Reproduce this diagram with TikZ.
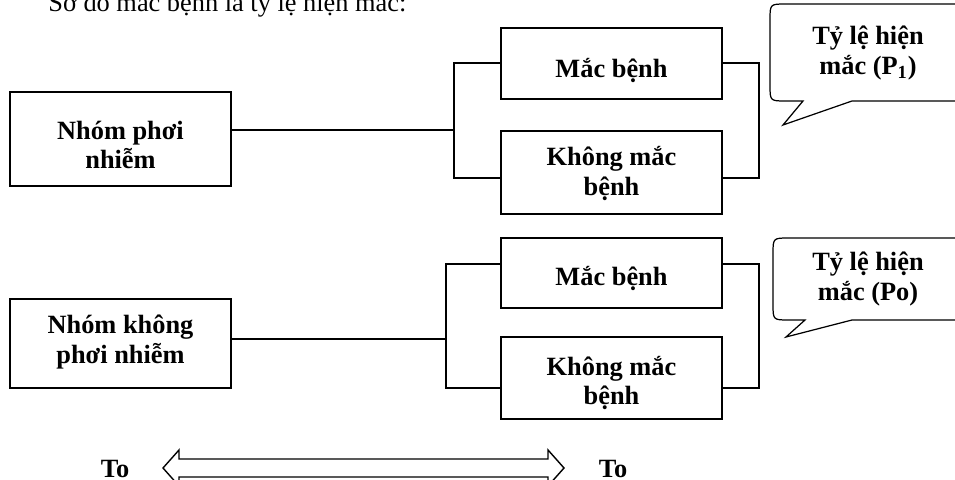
\documentclass[tikz,border=0pt]{standalone}
\usepackage{fontspec}
\setmainfont{Liberation Serif}
\usetikzlibrary{positioning}

\tikzset{
  box/.style={draw, line width=0.8pt, minimum width=4.42cm, inner sep=0pt},
  note/.style={align=center, inner sep=0pt, font=\bfseries\fontsize{15}{17}\selectfont},
  link/.style={line width=0.6pt},
  bubble/.style={line width=0.7pt},
}

\begin{document}
\begin{tikzpicture}[x=0.2mm, y=-0.2mm]
            \useasboundingbox (0,0) rectangle (955,480);

            % Heading (runs off the top edge)
            \node[anchor=base west, inner sep=0pt, font=\fontsize{15}{17}\selectfont] (title) at (48,12) {Sơ đồ mắc bệnh là tỷ lệ hiện mắc:};

            % Exposed group
            \node[box, minimum height=1.88cm] (exp) at (120.5,139) {};
            \node[box, minimum height=1.42cm] (sick1) at (611.5,63.5) {};
            \node[box, minimum height=1.66cm] (well1) at (611.5,172.5) {};
            \node[note] (expText) at (120.5,145) {Nhóm phơi\\nhiễm};
            \node[note] (sick1Text) at (611.5,71) {Mắc bệnh};
            \node[note] (well1Text) at (611.5,173.5) {Không mắc\\bệnh};

            \coordinate (fork1) at (454,130);
            \coordinate (fork1t) at (454,63);
            \coordinate (fork1b) at (454,178);
            \coordinate (join1t) at (759,63);
            \coordinate (join1b) at (759,178);
            \draw[link] (exp.east |- fork1) -- (fork1);
            \draw[link] (sick1.west |- fork1t) -- (fork1t) -- (fork1b) -- (well1.west |- fork1b);
            \draw[link] (sick1.east |- join1t) -- (join1t) -- (join1b) -- (well1.east |- join1b);

            % Unexposed group
            \node[box, minimum height=1.78cm] (unexp) at (120.5,343.5) {};
            \node[box, minimum height=1.40cm] (sick0) at (611.5,273) {};
            \node[box, minimum height=1.64cm] (well0) at (611.5,378) {};
            \node[note] (unexpText) at (120.5,342) {Nhóm không\\phơi nhiễm};
            \node[note] (sick0Text) at (611.5,278) {Mắc bệnh};
            \node[note] (well0Text) at (611.5,383) {Không mắc\\bệnh};

            \coordinate (fork0) at (446,339);
            \coordinate (fork0t) at (446,264);
            \coordinate (fork0b) at (446,388);
            \coordinate (join0t) at (759,264);
            \coordinate (join0b) at (759,388);
            \draw[link] (unexp.east |- fork0) -- (fork0);
            \draw[link] (sick0.west |- fork0t) -- (fork0t) -- (fork0b) -- (well0.west |- fork0b);
            \draw[link] (sick0.east |- join0t) -- (join0t) -- (join0b) -- (well0.east |- join0b);

            % Speech bubbles
            \draw[bubble] (803,101) -- (783,125) -- (852,101) -- (952,101)
                .. controls (968,101) .. (968,85) -- (968,20)
                .. controls (968,4) .. (952,4) -- (786,4)
                .. controls (770,4) .. (770,20) -- (770,85)
                .. controls (770,101) .. (786,101) -- cycle;
            \node[note] (rate1) at (868,53) {Tỷ lệ hiện\\mắc (P\textsubscript{1})};

            \draw[bubble] (805,320) -- (786,337) -- (852,320) -- (952,320)
                .. controls (968,320) .. (968,304) -- (968,254)
                .. controls (968,238) .. (952,238) -- (789,238)
                .. controls (773,238) .. (773,254) -- (773,304)
                .. controls (773,320) .. (789,320) -- cycle;
            \node[note] (rate0) at (868,279) {Tỷ lệ hiện\\mắc (Po)};

            % Two-way arrow
            \node[note] (toL) at (115,469) {To};
            \node[note] (toR) at (613,469) {To};
            \draw[line width=0.8pt] (163,468) -- (179,450) -- (179,459) -- (548,459) -- (548,450)
                -- (564,468) -- (548,486) -- (548,477) -- (179,477) -- (179,486) -- cycle;
        \end{tikzpicture}
\end{document}
